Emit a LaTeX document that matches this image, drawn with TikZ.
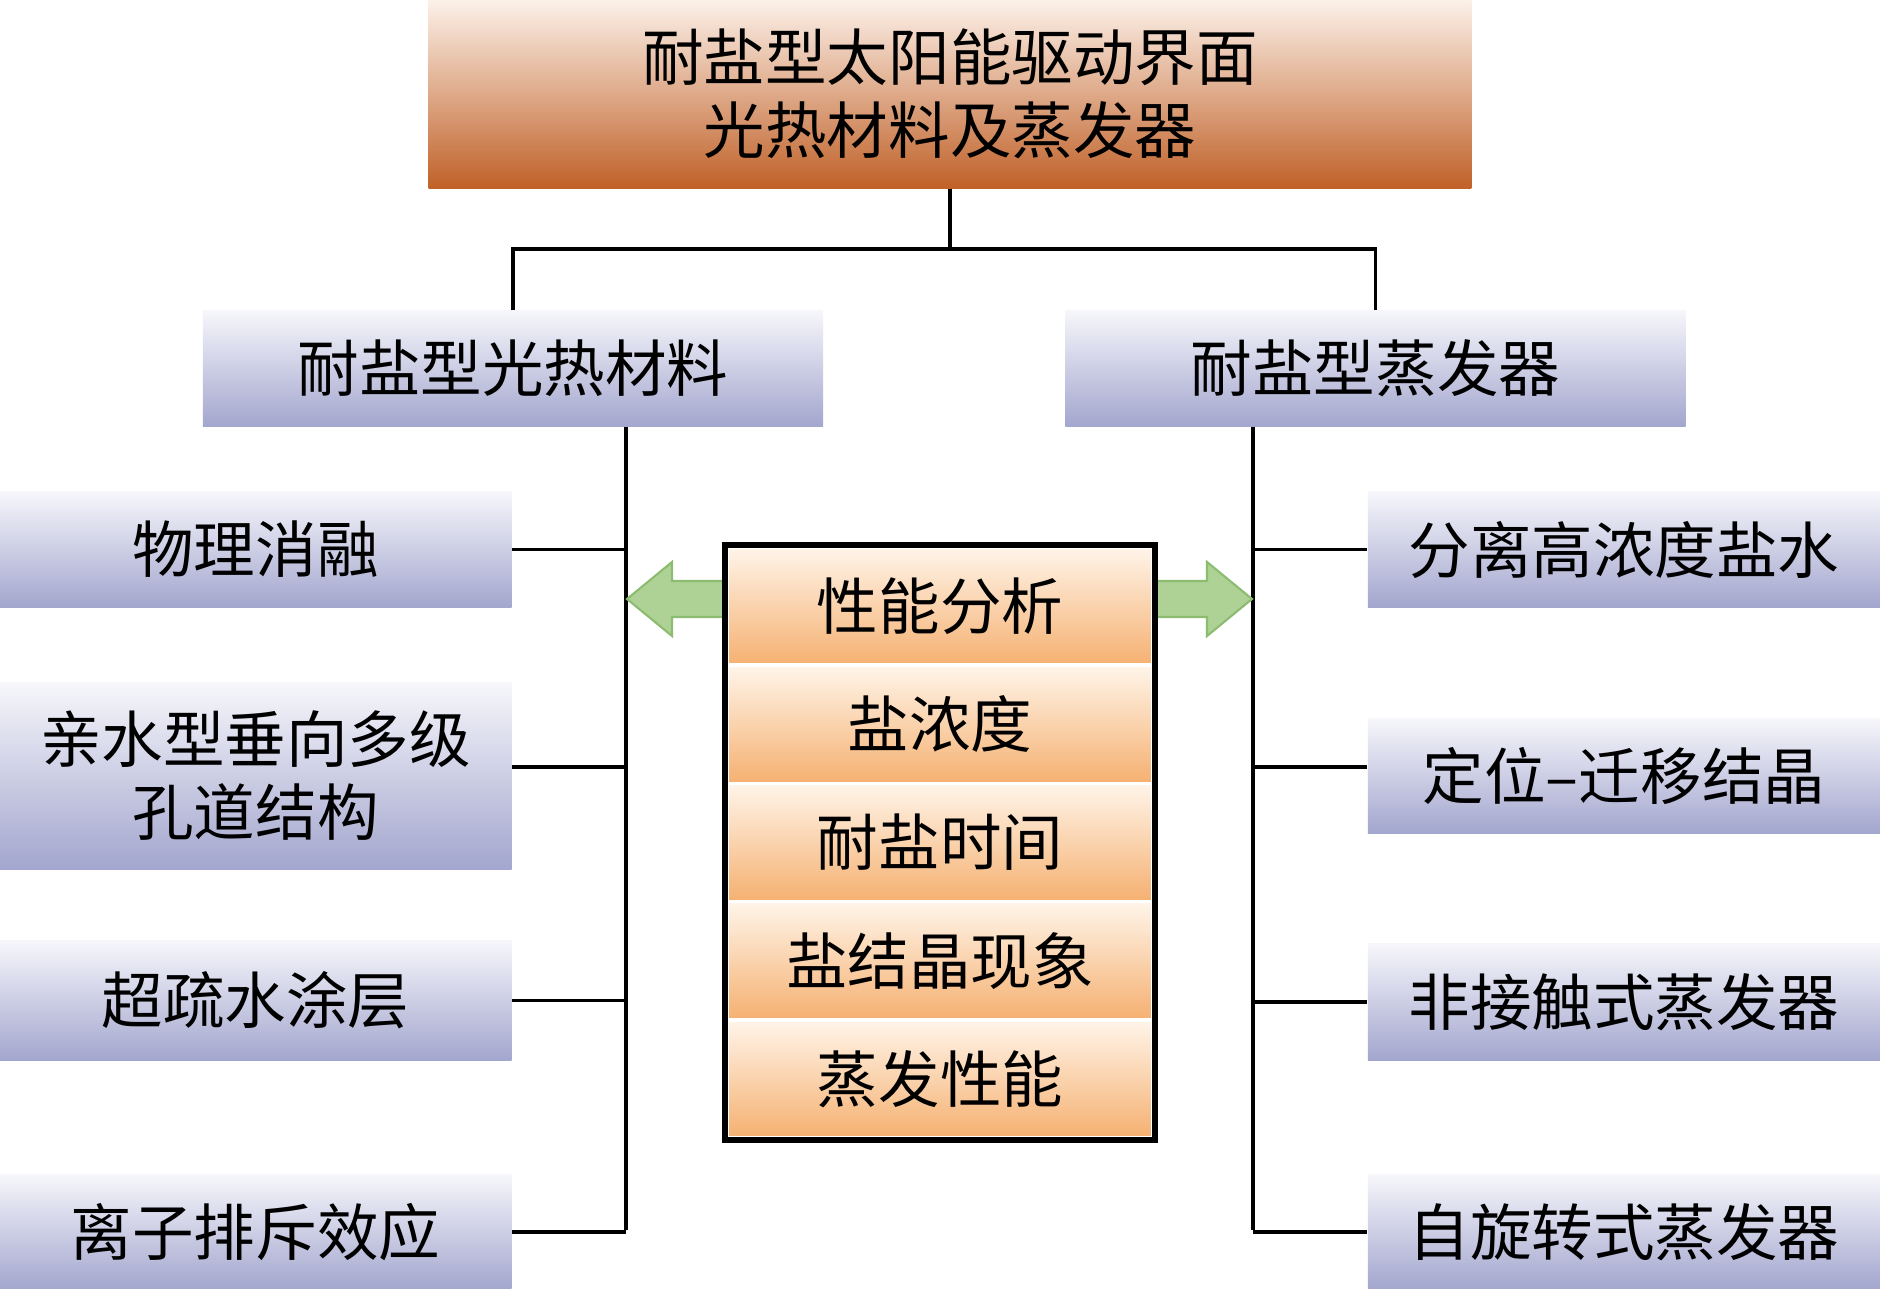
\documentclass[tikz,border=0pt]{standalone}
\usepackage{fontspec}
\newfontfamily\cjk{Noto Sans CJK SC}
\usetikzlibrary{calc}

\definecolor{leaftop}{RGB}{246,246,251}
\definecolor{leafbot}{RGB}{163,166,206}
\definecolor{roottop}{RGB}{252,241,233}
\definecolor{rootmid}{RGB}{224,162,124}
\definecolor{rootbot}{RGB}{192,97,40}
\definecolor{celltop}{RGB}{255,245,234}
\definecolor{cellbot}{RGB}{245,176,112}
\definecolor{arrowfill}{RGB}{174,210,150}
\definecolor{arrowline}{RGB}{140,188,112}

\tikzset{
  txt/.style={font=\cjk\fontsize{17.5}{20.8}\selectfont, align=center, inner sep=0pt},
  rootbox/.style={txt, rectangle, top color=roottop, middle color=rootmid, bottom color=rootbot,
    minimum width=10.42cm, minimum height=1.88cm},
  branch/.style={txt, rectangle, top color=leaftop, bottom color=leafbot,
    minimum width=6.2cm, minimum height=1.15cm},
  leaf/.style={txt, rectangle, top color=leaftop, bottom color=leafbot,
    minimum width=5.12cm, minimum height=1.15cm},
  cell/.style={txt, rectangle, top color=celltop, bottom color=cellbot, draw=white, line width=1pt,
    minimum width=4.26cm, minimum height=1.182cm},
  link/.style={line width=1.1pt},
  frame/.style={line width=1.6pt},
  garrow/.style={fill=arrowfill, draw=arrowline, line width=0.6pt, line join=miter}
}

\begin{document}
\begin{tikzpicture}[x=0.01cm, y=-0.01cm]
  \useasboundingbox (0,0) rectangle (1880,1289);

  % Nodes
  \node[rootbox] (root) at (950,94) {耐盐型太阳能驱动界面\\光热材料及蒸发器};

  \node[branch] (mat) at (513,368.5) {耐盐型光热材料};
  \node[branch] (eva) at (1375.5,368.5) {耐盐型蒸发器};

  \node[leaf] (l1) at (255.5,549.5) {物理消融};
  \node[leaf, minimum height=1.86cm] (l2) at (255.5,776) {亲水型垂向多级\\孔道结构};
  \node[leaf, minimum height=1.19cm] (l3) at (255.5,1000.5) {超疏水涂层};
  \node[leaf] (l4) at (255.5,1232) {离子排斥效应};

  \node[leaf] (r1) at (1624,549.5) {分离高浓度盐水};
  \node[leaf] (r2) at (1624,776) {定位–迁移结晶};
  \node[leaf, minimum height=1.16cm] (r3) at (1624,1002) {非接触式蒸发器};
  \node[leaf] (r4) at (1624,1232) {自旋转式蒸发器};

  \coordinate (split) at (950,249);
  \coordinate (lspine) at (626,1230);
  \coordinate (rspine) at (1253,1230);

  % Edges
  \draw[link] (root.south) -- (split);
  \draw[link] (mat.north) |- (split) -| (eva.north);

  \draw[link] (mat.south -| lspine) -- (lspine);
  \draw[link] (eva.south -| rspine) -- (rspine);

  \draw[link] (l1.east) -- (l1.east -| lspine);
  \draw[link] ($(l2.east)+(0,-9)$) -- ($(l2.east -| lspine)+(0,-9)$);
  \draw[link] (l3.east) -- (l3.east -| lspine);
  \draw[link] (l4.east) -- (l4.east -| lspine);

  \draw[link] (r1.west) -- (r1.west -| rspine);
  \draw[link] ($(r2.west)+(0,-9)$) -- ($(r2.west -| rspine)+(0,-9)$);
  \draw[link] (r3.west) -- (r3.west -| rspine);
  \draw[link] (r4.west) -- (r4.west -| rspine);

  % Arrows
  \draw[garrow] (729,581) -- ++(-57,0) -- ++(0,-19) -- ++(-45,37) -- ++(45,37) -- ++(0,-19) -- ++(57,0) -- cycle;
  \draw[garrow] (1151,581) -- ++(56,0) -- ++(0,-19) -- ++(45,37) -- ++(-45,37) -- ++(0,-19) -- ++(-56,0) -- cycle;

  % Analysis column
  \node[cell] (c1) at (940,606.1) {性能分析};
  \node[cell] (c2) at (940,724.3) {盐浓度};
  \node[cell] (c3) at (940,842.5) {耐盐时间};
  \node[cell] (c4) at (940,960.7) {盐结晶现象};
  \node[cell] (c5) at (940,1078.9) {蒸发性能};
  \draw[frame] (c1.north west) rectangle (c5.south east);
\end{tikzpicture}
\end{document}
